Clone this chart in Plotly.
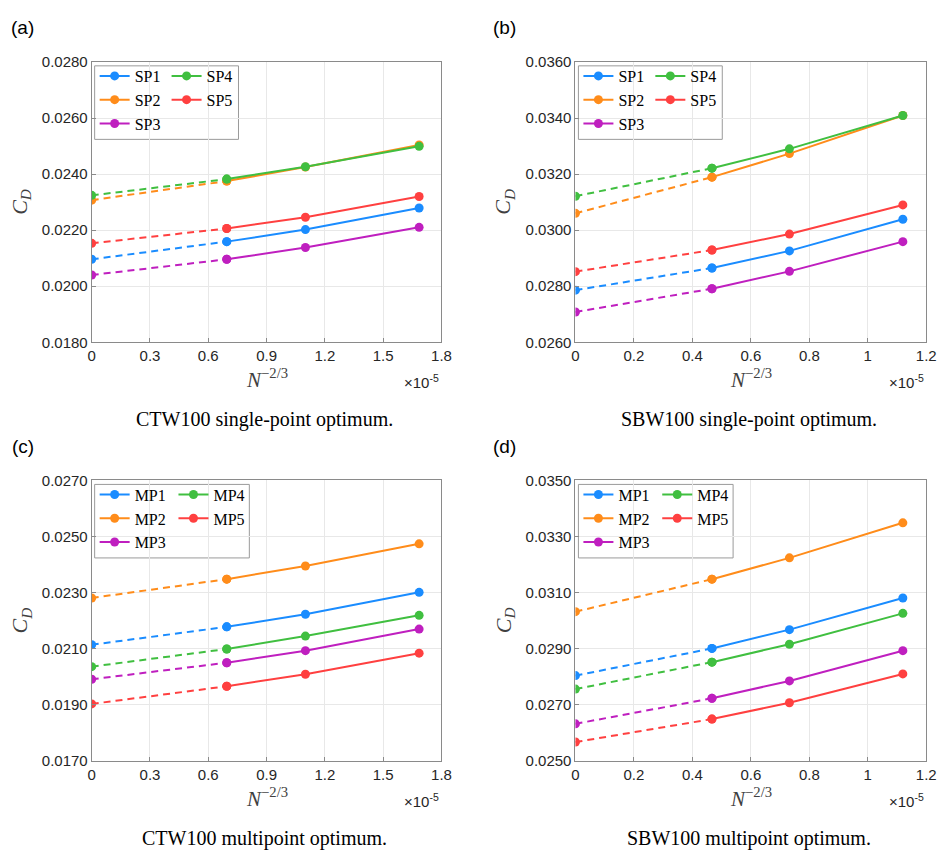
import plotly.graph_objects as go

# ---------------- data (x in units of 1e-5) ----------------
x_ctw = [0.0, 0.695, 1.100, 1.685]
x_sbw = [0.0, 0.467, 0.732, 1.120]

# (a) CTW100 single-point optimum
a_sp1 = [0.02096, 0.02159, 0.02202, 0.02279]
a_sp2 = [0.02307, 0.02375, 0.02425, 0.02504]
a_sp3 = [0.02040, 0.02096, 0.02138, 0.02210]
a_sp4 = [0.02324, 0.02382, 0.02426, 0.02499]
a_sp5 = [0.02153, 0.02206, 0.02246, 0.02320]

# (b) SBW100 single-point optimum
b_sp1 = [0.02786, 0.02865, 0.02926, 0.03039]
b_sp2 = [0.03060, 0.03189, 0.03273, 0.03409]
b_sp3 = [0.02708, 0.02791, 0.02853, 0.02959]
b_sp4 = [0.03121, 0.03221, 0.03290, 0.03409]
b_sp5 = [0.02852, 0.02929, 0.02986, 0.03090]

# (c) CTW100 multipoint optimum
c_mp1 = [0.02114, 0.02178, 0.02223, 0.02301]
c_mp2 = [0.02281, 0.02348, 0.02395, 0.02474]
c_mp3 = [0.01991, 0.02050, 0.02093, 0.02170]
c_mp4 = [0.02036, 0.02099, 0.02145, 0.02219]
c_mp5 = [0.01903, 0.01966, 0.02009, 0.02084]

# (d) SBW100 multipoint optimum
d_mp1 = [0.02804, 0.02901, 0.02968, 0.03081]
d_mp2 = [0.03032, 0.03148, 0.03224, 0.03349]
d_mp3 = [0.02632, 0.02723, 0.02785, 0.02893]
d_mp4 = [0.02756, 0.02852, 0.02916, 0.03026]
d_mp5 = [0.02567, 0.02649, 0.02707, 0.02810]

sp_names = ["SP1", "SP2", "SP3", "SP4", "SP5"]
mp_names = ["MP1", "MP2", "MP3", "MP4", "MP5"]

captions = ["CTW100 single-point optimum.", "SBW100 single-point optimum.",
            "CTW100 multipoint optimum.", "SBW100 multipoint optimum."]
labels = ["(a)", "(b)", "(c)", "(d)"]

y_ranges = [[0.018, 0.028], [0.026, 0.036], [0.017, 0.027], [0.025, 0.035]]
x_ranges = [[0, 1.8], [0, 1.2], [0, 1.8], [0, 1.2]]
x_dticks = [0.3, 0.2, 0.3, 0.2]

colors = ["#1A8CFF", "#FF8C1A", "#BF1FBF", "#40BF40", "#FF4040"]

# ---------------- layout geometry ----------------
W, H = 951, 860
boxes = [(89, 444, 54, 340), (580, 936, 54, 340),
         (89, 444, 481, 767), (580, 936, 481, 767)]


def fx(px):
    return px / W


def fy(py):
    return 1 - py / H


panels = [
    (x_ctw, [a_sp1, a_sp2, a_sp3, a_sp4, a_sp5], sp_names),
    (x_sbw, [b_sp1, b_sp2, b_sp3, b_sp4, b_sp5], sp_names),
    (x_ctw, [c_mp1, c_mp2, c_mp3, c_mp4, c_mp5], mp_names),
    (x_sbw, [d_mp1, d_mp2, d_mp3, d_mp4, d_mp5], mp_names),
]

fig = go.Figure()
layout = dict(width=W, height=H, margin=dict(l=0, r=0, t=0, b=0),
              paper_bgcolor="white", plot_bgcolor="white",
              showlegend=True, annotations=[], shapes=[])

axis_common = dict(showline=True, linecolor="#8a8a8a", linewidth=1, mirror=True,
                   showgrid=True, gridcolor="#e8e8e8", gridwidth=1,
                   ticks="inside", ticklen=4, tickcolor="#8a8a8a",
                   tickfont=dict(family="Liberation Sans", size=15, color="#262626"),
                   zeroline=False)

SERIF = "Liberation Serif"


def ann(text, x, y, font, **kw):
    d = dict(text=text, x=fx(x), y=fy(y), xref="paper", yref="paper", showarrow=False,
             xanchor="center", yanchor="middle", font=font)
    d.update(kw)
    layout["annotations"].append(d)


legend_idx = 0
for i, (xs, series, names) in enumerate(panels):
    n = i + 1
    xa = "x" if n == 1 else f"x{n}"
    ya = "y" if n == 1 else f"y{n}"
    l, r, t, b = boxes[i]
    leg1 = "legend" if legend_idx == 0 else f"legend{legend_idx + 1}"
    leg2 = f"legend{legend_idx + 2}"
    for k, (ys, name) in enumerate(zip(series, names)):
        leg = leg1 if k < 3 else leg2
        fig.add_trace(go.Scatter(x=xs[:2], y=ys[:2], mode="lines+markers", xaxis=xa, yaxis=ya,
                                 line=dict(color=colors[k], width=2, dash="7px,5px"),
                                 marker=dict(size=9, color=colors[k]),
                                 showlegend=False, hoverinfo="skip"))
        fig.add_trace(go.Scatter(x=xs[1:], y=ys[1:], mode="lines+markers", xaxis=xa, yaxis=ya,
                                 line=dict(color=colors[k], width=2),
                                 marker=dict(size=9, color=colors[k]),
                                 name=name, legend=leg))
    xk = "xaxis" if n == 1 else f"xaxis{n}"
    yk = "yaxis" if n == 1 else f"yaxis{n}"
    layout[xk] = dict(axis_common, domain=[fx(l), fx(r)], anchor=ya, range=x_ranges[i],
                      dtick=x_dticks[i], tick0=0)
    layout[yk] = dict(axis_common, domain=[fy(b), fy(t)], anchor=xa, range=y_ranges[i],
                      dtick=0.002, tick0=y_ranges[i][0], tickformat=".4f")
    # legends (two columns)
    legfont = dict(family=SERIF, size=16, color="black")
    layout[leg1] = dict(x=fx(l + 3), y=fy(t - 3), xanchor="left", yanchor="top",
                        bgcolor="rgba(0,0,0,0)", borderwidth=0, font=legfont,
                        itemwidth=30, tracegroupgap=0)
    layout[leg2] = dict(x=fx(l + 76 if names is sp_names else l + 83), y=fy(t - 3),
                        xanchor="left", yanchor="top",
                        bgcolor="rgba(0,0,0,0)", borderwidth=0, font=legfont,
                        itemwidth=30, tracegroupgap=0)
    legend_idx += 2
    # legend frame
    lw = 146 if names is sp_names else 157
    layout["shapes"].append(dict(type="rect", xref="paper", yref="paper",
                                 x0=fx(l + 3), x1=fx(l + 3 + lw), y0=fy(t + 79), y1=fy(t + 4),
                                 line=dict(color="#9a9a9a", width=1), fillcolor="white",
                                 layer="below"))
    cx = (l + r) / 2
    # axis titles and texts
    ann("<i>N</i><sup>−2/3</sup>", cx, b + 37, dict(family=SERIF, size=21, color="#404040"))
    ann("<i>C<sub>D</sub></i>", l - 72, (t + b) / 2, dict(family=SERIF, size=22, color="#404040"),
        textangle=-90)
    ann("×10<sup>-5</sup>", r - 20, b + 40, dict(family="Liberation Sans", size=15, color="#262626"))
    ann(labels[i], l - 70 if n % 2 else l - 72, t - 35,
        dict(family="Liberation Sans", size=19, color="black"))
    ann(captions[i], cx - 2, b + 79, dict(family=SERIF, size=20, color="black"))

fig.update_layout(**layout)
fig.write_html("out.html")
